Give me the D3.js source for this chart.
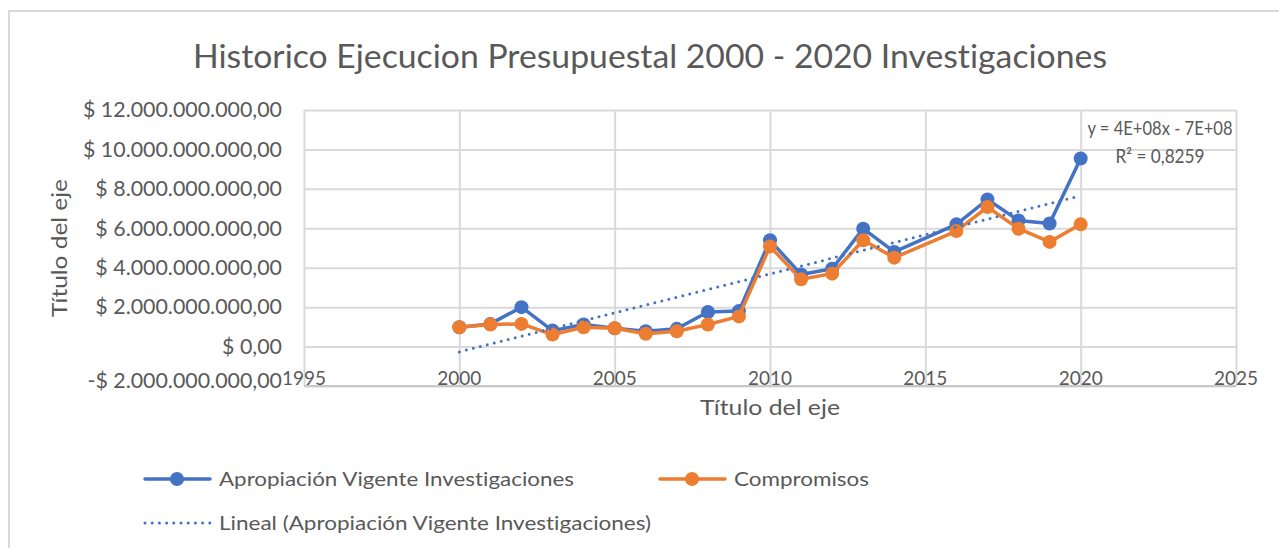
<!DOCTYPE html>
<html>
<head>
<meta charset="utf-8">
<script src="https://cdn.jsdelivr.net/npm/d3@7"></script>
<style>
  html, body { margin: 0; padding: 0; background: #ffffff; }
  svg { display: block; }
  text { font-family: Lato, "Open Sans", sans-serif; fill: #595959; font-variant-ligatures: none; font-feature-settings: "liga" 0; }
</style>
</head>
<body>
<svg id="chart" width="1279" height="548"></svg>
<script>
// ---- Data ----
const years = [2000, 2001, 2002, 2003, 2004, 2005, 2006, 2007, 2008, 2009, 2010,
               2011, 2012, 2013, 2014, 2016, 2017, 2018, 2019, 2020];
const apropiacion = [0.98e9, 1.15e9, 2.00e9, 0.81e9, 1.12e9, 0.93e9, 0.78e9, 0.90e9, 1.75e9, 1.80e9, 5.39e9,
                     3.66e9, 3.95e9, 5.98e9, 4.80e9, 6.20e9, 7.46e9, 6.40e9, 6.24e9, 9.54e9];
const compromisos = [0.98e9, 1.12e9, 1.15e9, 0.61e9, 0.98e9, 0.93e9, 0.65e9, 0.78e9, 1.12e9, 1.53e9, 5.08e9,
                     3.41e9, 3.70e9, 5.39e9, 4.51e9, 5.86e9, 7.08e9, 5.98e9, 5.31e9, 6.20e9];
const xTicks = [1995, 2000, 2005, 2010, 2015, 2020, 2025];
const yTicks = [-2e9, 0, 2e9, 4e9, 6e9, 8e9, 10e9, 12e9];
const titleText = "Historico Ejecucion Presupuestal 2000 - 2020 Investigaciones";
const xAxisTitle = "Título del eje";
const yAxisTitle = "Título del eje";
const seriesNames = ["Apropiación Vigente Investigaciones", "Compromisos", "Lineal (Apropiación Vigente Investigaciones)"];
const equationText = "y = 4E+08x - 7E+08";
const r2Text = "R² = 0,8259";

// ---- Layout ----
const W = 1279, H = 548;
const plot = { left: 304, right: 1236, top: 110, bottom: 386 };
const blue = "#4472C4", orange = "#ED7D31", grid = "#d9d9d9";

const svg = d3.select("#chart");

// chart border (only left and top visible in the reference)
svg.append("path")
  .attr("d", `M9,${H + 5} L9,11 L${W + 5},11`)
  .attr("fill", "none").attr("stroke", "#d9d9d9").attr("stroke-width", 2);

const x = d3.scaleLinear().domain([1995, 2025]).range([plot.left, plot.right]);
const y = d3.scaleLinear().domain([-2e9, 12e9]).range([plot.bottom, plot.top]);

const locale = d3.formatLocale({ decimal: ",", thousands: ".", grouping: [3], currency: ["$ ", ""], minus: "-" });
const money = locale.format("$,.2f");

// fit helper: condense text horizontally to a target width
function fit(sel, target) {
  sel.each(function () {
    const w = this.getComputedTextLength();
    const t = typeof target === "function" ? target(w) : target;
    d3.select(this).attr("textLength", t).attr("lengthAdjust", "spacingAndGlyphs");
  });
}

// ---- Gridlines ----
const gY = svg.append("g").attr("transform", `translate(${plot.left},0)`)
  .call(d3.axisLeft(y).tickValues(yTicks).tickSize(-(plot.right - plot.left)).tickFormat(""));
gY.select(".domain").remove();
gY.selectAll(".tick line").attr("stroke", grid).attr("stroke-width", 2);

const gX = svg.append("g").attr("transform", `translate(0,${plot.bottom})`)
  .call(d3.axisBottom(x).tickValues(xTicks).tickSize(-(plot.bottom - plot.top)).tickFormat(""));
gX.select(".domain").remove();
gX.selectAll(".tick line").attr("stroke", grid).attr("stroke-width", 2);

// bottom axis line
svg.append("line").attr("x1", plot.left).attr("x2", plot.right)
  .attr("y1", plot.bottom).attr("y2", plot.bottom)
  .attr("stroke", "#c8c8c8").attr("stroke-width", 2);

// ---- Y tick labels ----
const yLab = svg.append("g").selectAll("text").data(yTicks).join("text")
  .attr("x", 282).attr("y", d => y(d) - (d === -2e9 ? 5 : 0))
  .attr("dy", "0.35em").attr("text-anchor", "end")
  .style("font-size", "21px")
  .text(d => money(d));
const yScaleK = 199 / yLab.filter(d => d === 12e9).node().getComputedTextLength();
fit(yLab, w => w * yScaleK);

// ---- X tick labels ----
const xLab = svg.append("g").selectAll("text").data(xTicks).join("text")
  .attr("x", d => x(d)).attr("y", 378).attr("dy", "0.35em").attr("text-anchor", "middle")
  .style("font-size", "19px")
  .text(d => d);
fit(xLab, 44);

// ---- Titles ----
const title = svg.append("text").attr("x", 650).attr("y", 57).attr("dy", "0.35em")
  .attr("text-anchor", "middle").style("font-size", "32px").text(titleText);
fit(title, 914);

const xt = svg.append("text").attr("x", 770).attr("y", 408).attr("dy", "0.35em")
  .attr("text-anchor", "middle").style("font-size", "21px").text(xAxisTitle);
fit(xt, 140);

const yt = svg.append("text").attr("transform", "translate(60,248) rotate(-90)").attr("dy", "0.35em")
  .attr("text-anchor", "middle").style("font-size", "21px").text(yAxisTitle);
fit(yt, 138);

// ---- Series ----
const ptsA = years.map((yr, i) => [yr, apropiacion[i]]);
const ptsC = years.map((yr, i) => [yr, compromisos[i]]);
const line = d3.line().x(d => x(d[0])).y(d => y(d[1]));

function drawSeries(pts, color) {
  const g = svg.append("g");
  g.append("path").datum(pts).attr("d", line).attr("fill", "none")
    .attr("stroke", color).attr("stroke-width", 3.5).attr("stroke-linejoin", "round");
  g.selectAll("circle").data(pts).join("circle")
    .attr("cx", d => x(d[0])).attr("cy", d => y(d[1])).attr("r", 7).attr("fill", color);
}
drawSeries(ptsA, blue);
drawSeries(ptsC, orange);

// ---- Linear trendline (least squares on apropiacion) ----
const mx = d3.mean(years), my = d3.mean(apropiacion);
const sxy = d3.sum(years, (v, i) => (v - mx) * (apropiacion[i] - my));
const sxx = d3.sum(years, v => (v - mx) * (v - mx));
const slope = sxy / sxx, icpt = my - slope * mx;
const trendPts = d3.extent(years).map(v => [v, icpt + slope * v]);
svg.append("path").datum(trendPts).attr("d", line).attr("fill", "none")
  .attr("stroke", blue).attr("stroke-width", 3).attr("stroke-linecap", "round")
  .attr("stroke-dasharray", "0 7.2");

// ---- Trend equation ----
const eq = svg.append("text").attr("x", 1160).attr("y", 128).attr("dy", "0.35em")
  .attr("text-anchor", "middle").style("font-size", "19px").text(equationText);
fit(eq, 145);
const r2 = svg.append("text").attr("x", 1160).attr("y", 156).attr("dy", "0.35em")
  .attr("text-anchor", "middle").style("font-size", "19px").text(r2Text);
fit(r2, 89);

// ---- Legend ----
const legend = svg.append("g");
const legItems = [
  { name: seriesNames[0], color: blue, x: 145, y: 479, type: "marker", textW: 355 },
  { name: seriesNames[1], color: orange, x: 660, y: 479, type: "marker", textW: 135 },
  { name: seriesNames[2], color: blue, x: 145, y: 523, type: "dots", textW: 432 }
];
legItems.forEach(it => {
  if (it.type === "marker") {
    legend.append("line").attr("x1", it.x).attr("x2", it.x + 65).attr("y1", it.y).attr("y2", it.y)
      .attr("stroke", it.color).attr("stroke-width", 3.5).attr("stroke-linecap", "round");
    legend.append("circle").attr("cx", it.x + 32).attr("cy", it.y).attr("r", 7).attr("fill", it.color);
  } else {
    legend.append("line").attr("x1", it.x).attr("x2", it.x + 65).attr("y1", it.y).attr("y2", it.y)
      .attr("stroke", it.color).attr("stroke-width", 3).attr("stroke-linecap", "round")
      .attr("stroke-dasharray", "0 7.2");
  }
  const t = legend.append("text").attr("x", it.x + 74).attr("y", it.y).attr("dy", "0.35em")
    .style("font-size", "20px").text(it.name);
  fit(t, it.textW);
});
</script>
</body>
</html>
